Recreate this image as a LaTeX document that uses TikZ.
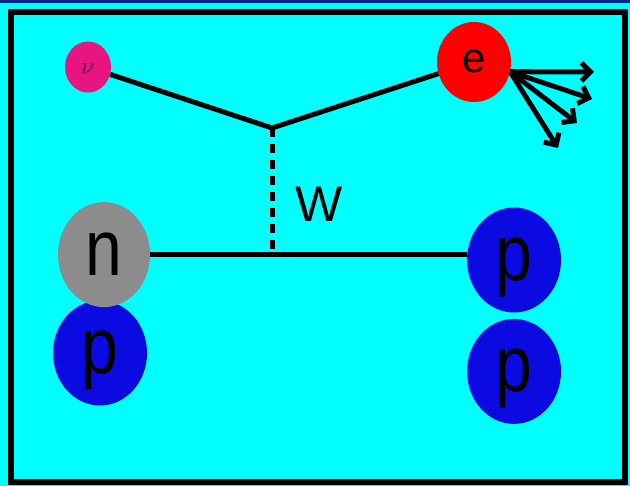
\documentclass[tikz,border=0pt]{standalone}
\usepackage{fontspec}
\setsansfont{Liberation Sans}
\usetikzlibrary{shapes.geometric, arrows.meta, positioning}

\definecolor{skycyan}{RGB}{0,255,255}
\definecolor{bandblue}{RGB}{0,40,140}
\definecolor{nupink}{RGB}{232,20,130}
\definecolor{nugray}{RGB}{140,140,140}
\definecolor{pblue}{RGB}{10,10,225}
\definecolor{nuink}{RGB}{70,10,50}

\newcommand{\tallt}[1]{\scalebox{1}[1.2]{#1}}

\begin{document}
\begin{tikzpicture}[
    x=1pt, y=-1pt,
    ball/.style={ellipse, inner sep=0pt, text depth=0pt, font=\sffamily\fontsize{66}{66}\selectfont},
    prot/.style={ball, fill=pblue, minimum width=94pt, minimum height=105pt, text height=41pt},
    line/.style={line width=5pt, black},
    ray/.style={line width=5pt, -{Straight Barb[length=9pt, width=18pt]}}
]

% background and frame
\fill[skycyan] (0,0) rectangle (630,486);
\fill[bandblue] (0,0) rectangle (630,3.5);
\draw[line width=6pt] (11,12.5) rectangle (625,482);

% particles
\node (pL) [prot] at (100,353) {\tallt{p}};
\node (n) [ball, fill=nugray, minimum width=92pt, minimum height=105pt, text height=41pt, above=-7pt of pL, xshift=4pt] {\tallt{n}};
\node (pA) [prot] at (514,260) {\tallt{p}};
\node (pB) [prot, below=6pt of pA] {\tallt{p}};

\node (nu) [ball, fill=nupink, minimum width=46pt, minimum height=51pt, text height=16pt, font=\fontsize{36}{36}\selectfont, text=nuink] at (88,67) {$\nu$};
\node (e) [ball, fill=red, minimum width=74pt, minimum height=80pt, text height=22pt, font=\sffamily\fontsize{42}{42}\selectfont] at (474,62) {e};

% vertices
\coordinate (vtx) at (272,128);
\coordinate (wend) at (vtx |- n.east);
\node (wlab) [font=\sffamily\fontsize{50}{50}\selectfont, anchor=west] at (292,204) {W};

\coordinate (r1) at (594,72);
\coordinate (r2) at (592,99);
\coordinate (r3) at (577,123);
\coordinate (r4) at (558,148);

% lines
\draw [line] (nu) -- (vtx) -- (e);
\draw [line, dash pattern=on 9pt off 7pt] (vtx) -- (wend);
\draw [line] (n.east) -- (n.east -| pA.west);

\foreach \r in {r1,r2,r3,r4}
  \draw [ray] (e.-15) -- (\r);

\end{tikzpicture}
\end{document}
